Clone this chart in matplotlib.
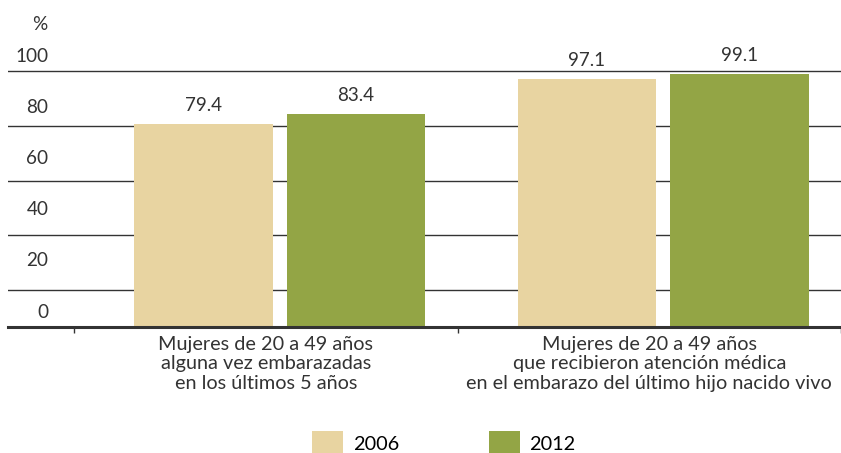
import matplotlib
matplotlib.use("Agg")
import matplotlib.pyplot as plt
import matplotlib.transforms as mtransforms

plt.rcParams['font.family'] = ['Lato', 'DejaVu Sans']

categories = ["Mujeres de 20 a 49 años\nalguna vez embarazadas\nen los últimos 5 años",
              "Mujeres de 20 a 49 años\nque recibieron atención médica\nen el embarazo del último hijo nacido vivo"]
years = ["2006", "2012"]
values_2006 = [79.4, 97.1]
values_2012 = [83.4, 99.1]
y_ticks = [0, 20, 40, 60, 80, 100]
grid_levels = [14.5, 36.0, 57.1, 78.6, 100]

col_2006 = "#E8D4A1"
col_2012 = "#93A545"
dark = "#333333"
fs = 14.3

fig = plt.figure(figsize=(8.41, 4.53), dpi=100)
ax = fig.add_axes([8 / 841, (453 - 327) / 453, 1 - 8 / 841, 327 / 453])

x = list(range(len(categories)))
w = 0.361
for lvl in grid_levels:
    ax.axhline(lvl, color=dark, lw=1.0, zorder=1)

b1 = ax.bar([i - 0.163 for i in x], values_2006, w, color=col_2006, zorder=2, label=years[0])
b2 = ax.bar([i + 0.235 for i in x], values_2012, w, color=col_2012, zorder=2, label=years[1])

for bars, vals in ((b1, values_2006), (b2, values_2012)):
    for r, v in zip(bars, vals):
        ax.annotate(f"{v:.1f}", (r.get_x() + r.get_width() / 2, v), xytext=(0, 7),
                    textcoords="offset points", ha="center", va="bottom",
                    fontsize=13.5, color=dark)

ax.set_xlim(-0.673, 1.474)
ax.set_ylim(0, 127.9)

# y labels sit above their values
ax.set_yticks(y_ticks)
ax.set_yticklabels([str(t) for t in y_ticks], fontsize=13.6, color=dark)
ax.tick_params(axis="y", length=0, pad=-29)
shift = mtransforms.ScaledTranslation(0, 16.5 / 100, fig.dpi_scale_trans)
for lab in ax.get_yticklabels():
    lab.set_horizontalalignment("right")
    lab.set_transform(lab.get_transform() + shift)
ax.text(40 / 841, 1 - 24 / 453, "%", transform=fig.transFigure, ha="center", va="center",
        fontsize=13.6, color=dark)

# category boundaries as ticks, names centred between them
ax.set_xticks([-0.5, 0.5, 1.5])
ax.set_xticklabels([])
ax.tick_params(axis="x", length=4, width=1, color=dark, direction="out")
for i, name in zip(x, categories):
    ax.text(i, -3.4, name, ha="center", va="top", fontsize=fs, color=dark,
            linespacing=1.2, clip_on=False)

for s in ("top", "right", "left"):
    ax.spines[s].set_visible(False)
ax.spines["bottom"].set_color(dark)
ax.spines["bottom"].set_linewidth(2.2)
ax.patch.set_alpha(0)

fig.legend(handles=[b1, b2], labels=years, loc="upper left",
           bbox_to_anchor=(312 / 841, 22 / 453), ncol=2, frameon=False,
           fontsize=fs, handlelength=1.56, handleheight=1.56, handletextpad=0.5,
           columnspacing=4.5, borderpad=0, borderaxespad=0)

fig.savefig("out.png", dpi=100)
